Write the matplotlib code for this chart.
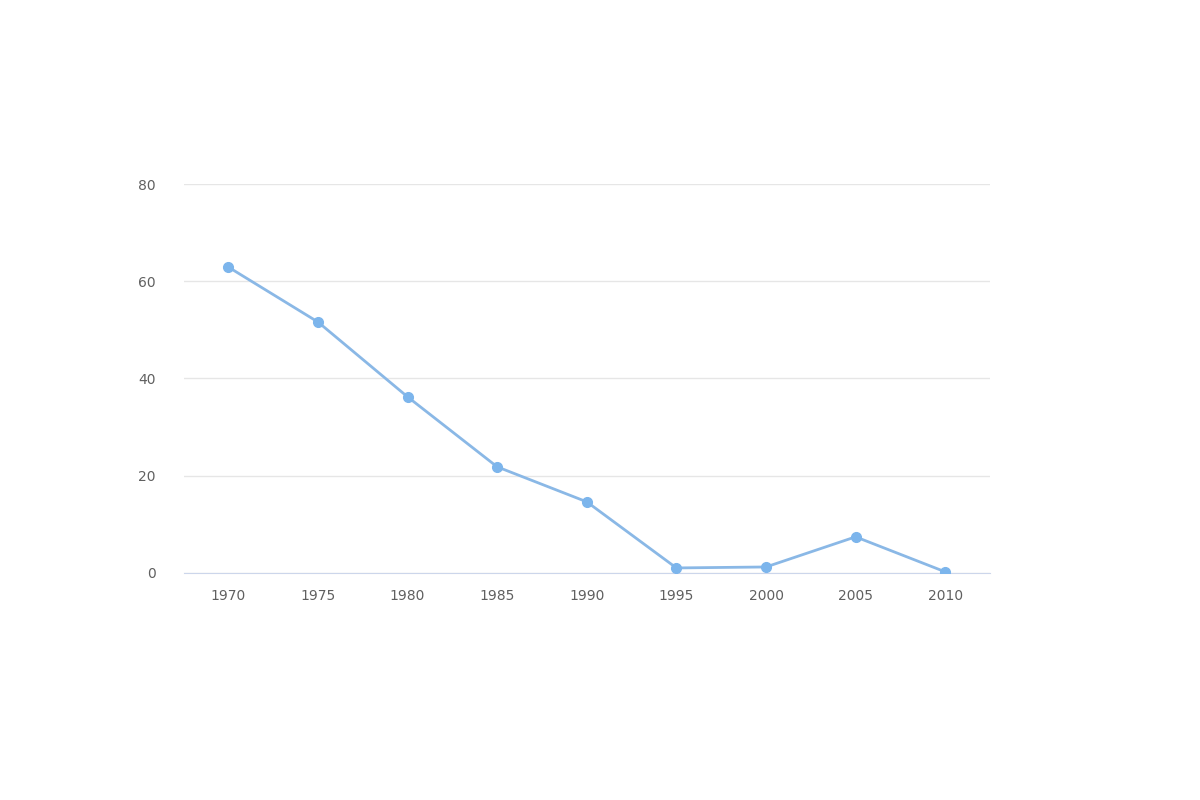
import matplotlib.pyplot as plt

years = ['1970', '1975', '1980', '1985', '1990', '1995', '2000', '2005', '2010']
values = [62.9, 51.6, 36.2, 21.8, 14.6, 1.0, 1.2, 7.4, 0.2]

fig = plt.figure(figsize=(12, 8), dpi=100)
ax = fig.add_axes([0.153, 0.284, 0.672, 0.486])

x = range(len(years))
ax.plot(x, values, color='#8ab8e6', linewidth=2, marker='o', markersize=7,
        markerfacecolor='#7cb5ec', markeredgecolor='#7cb5ec', zorder=3)

ax.set_xlim(-0.5, len(years) - 0.5)
ax.set_ylim(0, 80)
ax.set_yticks([0, 20, 40, 60, 80])
ax.set_xticks(list(x))
ax.set_xticklabels(years)
ax.grid(axis='y', color='#e6e6e6', linewidth=1)
ax.set_axisbelow(True)
for s in ['top', 'right', 'left']:
    ax.spines[s].set_visible(False)
ax.spines['bottom'].set_color('#ccd6eb')
ax.tick_params(axis='both', length=0, labelsize=10, colors='#606060', pad=12)
ax.tick_params(axis='y', pad=20)

fig.savefig('out.png')
